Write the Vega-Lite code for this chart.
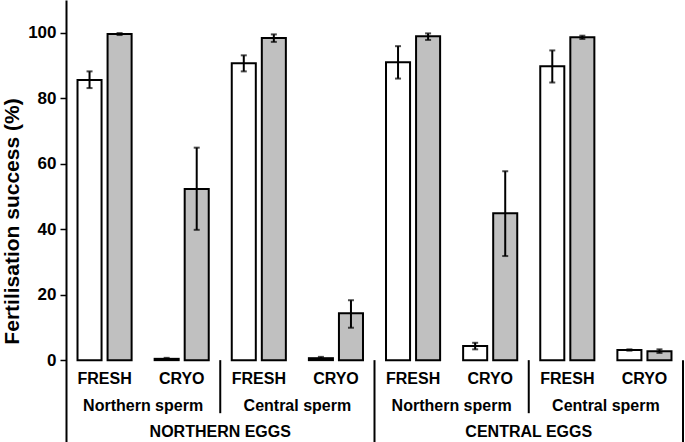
{
  "$schema": "https://vega.github.io/schema/vega-lite/v6.json",
  "width": 617,
  "height": 442,
  "autosize": {"type": "none"},
  "padding": {"left": 66, "top": 0, "right": 2, "bottom": 0},
  "background": "white",
  "config": {"view": {"stroke": null}, "font": "Liberation Sans"},
  "datasets": {
    "bars": [
      {"grp": "NE-NS-FRESH", "trial": "Trial 1", "mean": 85.6, "lo": 83.1, "hi": 88.2},
      {"grp": "NE-NS-FRESH", "trial": "Trial 2", "mean": 99.6, "lo": 99.3, "hi": 99.9},
      {"grp": "NE-NS-CRYO", "trial": "Trial 1", "mean": 0.4, "lo": 0.1, "hi": 0.7},
      {"grp": "NE-NS-CRYO", "trial": "Trial 2", "mean": 52.3, "lo": 39.8, "hi": 64.9},
      {"grp": "NE-CS-FRESH", "trial": "Trial 1", "mean": 90.7, "lo": 88.2, "hi": 93.1},
      {"grp": "NE-CS-FRESH", "trial": "Trial 2", "mean": 98.4, "lo": 97.2, "hi": 99.5},
      {"grp": "NE-CS-CRYO", "trial": "Trial 1", "mean": 0.6, "lo": 0.2, "hi": 1.0},
      {"grp": "NE-CS-CRYO", "trial": "Trial 2", "mean": 14.3, "lo": 9.9, "hi": 18.3},
      {"grp": "CE-NS-FRESH", "trial": "Trial 1", "mean": 91.0, "lo": 86.0, "hi": 95.9},
      {"grp": "CE-NS-FRESH", "trial": "Trial 2", "mean": 98.9, "lo": 97.8, "hi": 99.8},
      {"grp": "CE-NS-CRYO", "trial": "Trial 1", "mean": 4.3, "lo": 3.3, "hi": 5.3},
      {"grp": "CE-NS-CRYO", "trial": "Trial 2", "mean": 44.9, "lo": 31.8, "hi": 57.7},
      {"grp": "CE-CS-FRESH", "trial": "Trial 1", "mean": 89.8, "lo": 84.8, "hi": 94.6},
      {"grp": "CE-CS-FRESH", "trial": "Trial 2", "mean": 98.6, "lo": 98.1, "hi": 99.1},
      {"grp": "CE-CS-CRYO", "trial": "Trial 1", "mean": 3.1, "lo": 2.9, "hi": 3.3},
      {"grp": "CE-CS-CRYO", "trial": "Trial 2", "mean": 2.7, "lo": 2.2, "hi": 3.3}
    ],
    "treat": [
      {"grp": "NE-NS-FRESH", "label": "FRESH"},
      {"grp": "NE-NS-CRYO", "label": "CRYO"},
      {"grp": "NE-CS-FRESH", "label": "FRESH"},
      {"grp": "NE-CS-CRYO", "label": "CRYO"},
      {"grp": "CE-NS-FRESH", "label": "FRESH"},
      {"grp": "CE-NS-CRYO", "label": "CRYO"},
      {"grp": "CE-CS-FRESH", "label": "FRESH"},
      {"grp": "CE-CS-CRYO", "label": "CRYO"}
    ],
    "sperm": [
      {"grp": "NE-NS-CRYO", "label": "Northern sperm"},
      {"grp": "NE-CS-CRYO", "label": "Central sperm"},
      {"grp": "CE-NS-CRYO", "label": "Northern sperm"},
      {"grp": "CE-CS-CRYO", "label": "Central sperm"}
    ],
    "eggs": [
      {"grp": "NE-CS-FRESH", "label": "NORTHERN EGGS"},
      {"grp": "CE-CS-FRESH", "label": "CENTRAL EGGS"}
    ],
    "spermSep": [
      {"grp": "NE-CS-FRESH"},
      {"grp": "CE-CS-FRESH"}
    ],
    "eggSep": [
      {"grp": "CE-NS-FRESH"}
    ],
    "endSep": [
      {"grp": "CE-CS-CRYO"}
    ]
  },
  "layer": [
    {
      "data": {"name": "bars"},
      "mark": {"type": "bar", "stroke": "black", "strokeWidth": 2},
      "encoding": {
        "x": {"field": "grp", "type": "nominal", "axis": null, "sort": null,
              "scale": {"domain": ["NE-NS-FRESH","NE-NS-CRYO","NE-CS-FRESH","NE-CS-CRYO","CE-NS-FRESH","CE-NS-CRYO","CE-CS-FRESH","CE-CS-CRYO"], "paddingInner": 0, "paddingOuter": 0}},
        "xOffset": {"field": "trial", "type": "nominal", "scale": {"domain": ["Trial 1", "Trial 2"], "paddingInner": 0.2, "paddingOuter": 0.383}},
        "y": {"field": "mean", "type": "quantitative",
              "scale": {"domain": [-25, 110], "nice": false, "zero": false},
              "axis": {"values": [0, 20, 40, 60, 80, 100], "grid": false, "title": "Fertilisation success (%)",
                       "titleFontSize": 21, "titleFontWeight": "bold", "titleColor": "black", "titlePadding": 5,
                       "labelFontSize": 17, "labelFontWeight": "bold", "labelColor": "black", "labelPadding": 4,
                       "domainColor": "black", "domainWidth": 2, "tickColor": "black", "tickWidth": 1.5, "tickSize": 6}},
        "y2": {"datum": 0},
        "fill": {"field": "trial", "type": "nominal", "scale": {"domain": ["Trial 1", "Trial 2"], "range": ["#ffffff", "#c0c0c0"]}, "legend": null}
      }
    },
    {
      "data": {"name": "bars"},
      "mark": {"type": "rule", "color": "black", "strokeWidth": 2},
      "encoding": {
        "x": {"field": "grp", "type": "nominal"},
        "xOffset": {"field": "trial", "type": "nominal"},
        "y": {"field": "lo", "type": "quantitative"},
        "y2": {"field": "hi"}
      }
    },
    {
      "data": {"name": "bars"},
      "mark": {"type": "tick", "color": "black", "thickness": 2, "size": 6},
      "encoding": {
        "x": {"field": "grp", "type": "nominal"},
        "xOffset": {"field": "trial", "type": "nominal"},
        "y": {"field": "lo", "type": "quantitative"}
      }
    },
    {
      "data": {"name": "bars"},
      "mark": {"type": "tick", "color": "black", "thickness": 2, "size": 6},
      "encoding": {
        "x": {"field": "grp", "type": "nominal"},
        "xOffset": {"field": "trial", "type": "nominal"},
        "y": {"field": "hi", "type": "quantitative"}
      }
    },
    {
      "mark": {"type": "rule", "color": "black", "strokeWidth": 2},
      "encoding": {"y": {"datum": 0}}
    },
    {
      "data": {"name": "spermSep"},
      "mark": {"type": "rule", "color": "black", "strokeWidth": 2},
      "encoding": {
        "x": {"field": "grp", "type": "nominal", "bandPosition": 0},
        "y": {"datum": 0},
        "y2": {"datum": -16.2}
      }
    },
    {
      "data": {"name": "eggSep"},
      "mark": {"type": "rule", "color": "black", "strokeWidth": 2},
      "encoding": {
        "x": {"field": "grp", "type": "nominal", "bandPosition": 0},
        "y": {"datum": 0},
        "y2": {"datum": -25}
      }
    },
    {
      "data": {"name": "endSep"},
      "mark": {"type": "rule", "color": "black", "strokeWidth": 2},
      "encoding": {
        "x": {"field": "grp", "type": "nominal", "bandPosition": 1},
        "y": {"datum": 0},
        "y2": {"datum": -25}
      }
    },
    {
      "data": {"name": "treat"},
      "mark": {"type": "text", "fontSize": 16, "fontWeight": "bold", "color": "black", "baseline": "middle"},
      "encoding": {
        "x": {"field": "grp", "type": "nominal"},
        "y": {"datum": -5.8},
        "text": {"field": "label"}
      }
    },
    {
      "data": {"name": "sperm"},
      "mark": {"type": "text", "fontSize": 16, "fontWeight": "bold", "color": "black", "baseline": "middle"},
      "encoding": {
        "x": {"field": "grp", "type": "nominal", "bandPosition": 0},
        "y": {"datum": -14},
        "text": {"field": "label"}
      }
    },
    {
      "data": {"name": "eggs"},
      "mark": {"type": "text", "fontSize": 16, "fontWeight": "bold", "color": "black", "baseline": "middle"},
      "encoding": {
        "x": {"field": "grp", "type": "nominal", "bandPosition": 0},
        "y": {"datum": -21.9},
        "text": {"field": "label"}
      }
    }
  ]
}
